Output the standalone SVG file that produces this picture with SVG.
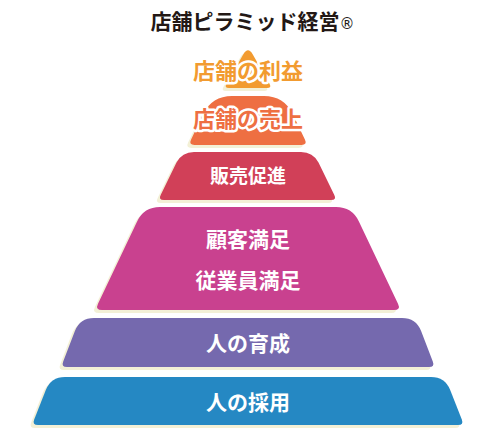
<svg xmlns="http://www.w3.org/2000/svg" xmlns:xlink="http://www.w3.org/1999/xlink" width="493" height="433" viewBox="0 0 493 433">
<style>
.lbl{font-family:"Noto Sans CJK JP","Noto Sans",sans-serif;font-weight:bold;fill:#fff;text-anchor:middle}
.olbl{font-family:"Noto Sans CJK JP","Noto Sans",sans-serif;font-weight:bold;text-anchor:middle;stroke:#fff;stroke-width:5;stroke-linejoin:round;paint-order:stroke}
.shadow{fill:#F3F0D6}
</style>
<defs>
<path id="s1" d="M243.5,54 Q248,46.5 252.5,54 L269.5,83.7 Q272,88 267,88 L229,88 Q224,88 226.5,83.7 Z"/>
<path id="s2" d="M232,96 L264,96 Q284,96 292.7,114 L304.9,139.6 Q307.5,145 301.5,145 L194.5,145 Q188.5,145 191.1,139.6 L203.3,114 Q212,96 232,96 Z"/>
<path id="s3" d="M194,152 L301,152 Q313,152 318.5,162.6 L334.2,194.7 Q337,200 331,200 L164,200 Q158,200 160.8,194.7 L176.5,162.6 Q182,152 194,152 Z"/>
<path id="s4" d="M160,207 L336,207 Q352,207 358.9,221.4 L398,303.7 Q401,310 394,310 L102,310 Q95,310 98,303.7 L137.1,221.4 Q144,207 160,207 Z"/>
<path id="s5" d="M94,318 L402,318 Q416,318 421.1,331 L432.8,361.4 Q435,367 429,367 L67,367 Q61,367 63.2,361.4 L74.9,331 Q80,318 94,318 Z"/>
<path id="s6" d="M65,377 L431,377 Q445,377 450.2,390 L461.8,419.4 Q464,425 458,425 L38,425 Q32,425 34.2,419.4 L45.8,390 Q51,377 65,377 Z"/>
</defs>
<rect width="493" height="433" fill="#fff"/>
<text x="252.5" y="29" font-family="'Noto Sans CJK JP','Noto Sans',sans-serif" font-weight="bold" font-size="21" fill="#231815" text-anchor="middle">店舗ピラミッド経営<tspan font-family="'DejaVu Sans',sans-serif" font-weight="normal" font-size="15">®</tspan></text>
<g id="connectors"/>
<g id="profit">
<use xlink:href="#s1" class="shadow" transform="translate(-3,3)"/>
<use xlink:href="#s1" fill="#F29B30"/>
<text class="olbl" x="248" y="78.5" font-size="22" fill="#F29B30">店舗の利益</text>
</g>
<g id="sales">
<use xlink:href="#s2" class="shadow" transform="translate(-3,3)"/>
<use xlink:href="#s2" fill="#EE6F42"/>
<text class="olbl" x="248" y="126.5" font-size="22" fill="#EE6F42">店舗の売上</text>
</g>
<g id="promo">
<use xlink:href="#s3" class="shadow" transform="translate(-3,3)"/>
<use xlink:href="#s3" fill="#D14058"/>
<text class="lbl" x="248" y="183" font-size="19">販売促進</text>
</g>
<g id="satisfaction">
<use xlink:href="#s4" class="shadow" transform="translate(-3,3)"/>
<use xlink:href="#s4" fill="#C9418F"/>
<text class="lbl" x="248" y="247" font-size="21">顧客満足</text>
<text class="lbl" x="248" y="288" font-size="21">従業員満足</text>
</g>
<g id="training">
<use xlink:href="#s5" class="shadow" transform="translate(-3,3)"/>
<use xlink:href="#s5" fill="#7569AE"/>
<text class="lbl" x="248" y="351" font-size="21">人の育成</text>
</g>
<g id="hiring">
<use xlink:href="#s6" class="shadow" transform="translate(-3,3)"/>
<use xlink:href="#s6" fill="#2588C3"/>
<text class="lbl" x="248" y="410" font-size="21">人の採用</text>
</g>
</svg>
